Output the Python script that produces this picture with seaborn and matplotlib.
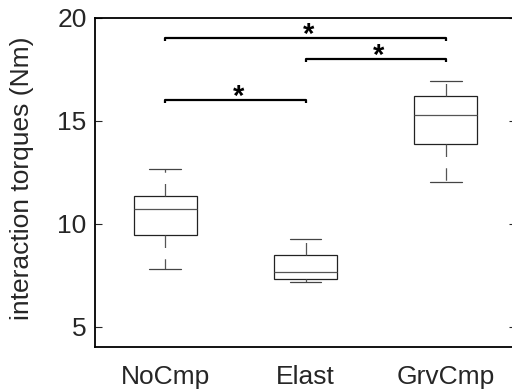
import numpy as np
import pandas as pd
import matplotlib
matplotlib.use("Agg")
import matplotlib.pyplot as plt
import seaborn as sns

# values: [low whisker, q1, median, q3, high whisker]
conditions = ["NoCmp", "Elast", "GrvCmp"]
nocmp_vals = [7.82, 9.43, 10.72, 11.36, 12.63]
elast_vals = [7.19, 7.29, 7.67, 8.49, 9.25]
grvcmp_vals = [12.02, 13.87, 15.26, 16.17, 16.90]

# significance brackets: (from, to, height)
sig_from = [0, 0, 1]
sig_to = [1, 2, 2]
sig_height = [16.0, 19.0, 18.0]

y_ticks = [5, 10, 15, 20]

df = pd.DataFrame({
    "condition": np.repeat(conditions, 5),
    "torque": nocmp_vals + elast_vals + grvcmp_vals,
})

sns.set_style("white")
plt.rcParams["font.family"] = ["Liberation Sans", "DejaVu Sans"]
txt_col = "#262626"

fig = plt.figure(figsize=(5.12, 3.9), dpi=100)
ax = fig.add_axes([95 / 512, 42.7 / 390, 421 / 512, 329.8 / 390])

sns.boxplot(data=df, x="condition", y="torque", order=conditions, ax=ax,
            color="white", linecolor="#222222", linewidth=0.9, width=0.45,
            whis=(0, 100), saturation=1,
            boxprops=dict(edgecolor="#222222", linewidth=0.9),
            medianprops=dict(color="#555555", linewidth=0.9),
            whiskerprops=dict(color="#555555", linewidth=0.9, linestyle=(0, (10, 9))),
            capprops=dict(color="#444444", linewidth=0.9))

# brackets and stars
for a, b, h in zip(sig_from, sig_to, sig_height):
    ax.plot([a, a, b, b], [h - 0.15, h, h, h - 0.15], color="black", lw=1.6,
            solid_joinstyle="round", solid_capstyle="butt")
    ax.text((a + b) / 2 + 0.02, h - 0.24, "*", ha="center", va="baseline",
            fontsize=21, fontweight="bold", color="black")

ax.set_xlim(-0.5, 2.5)
ax.set_ylim(4, 20)
ax.set_yticks(y_ticks)
ax.set_yticklabels([str(t) for t in y_ticks])
ax.set_xlabel("")
ax.set_ylabel("interaction torques (Nm)", fontsize=19, color=txt_col)
ax.yaxis.set_label_coords(-0.145, 0.513)

ax.tick_params(axis="y", direction="in", length=5, width=0.8, pad=6,
               labelsize=19, labelcolor=txt_col, colors=txt_col,
               left=True, right=True)
ax.tick_params(axis="x", length=0, pad=13, labelsize=19, labelcolor=txt_col)

for s in ax.spines.values():
    s.set_color("black")
    s.set_linewidth(1.3)
    s.set_visible(True)
ax.spines["right"].set_visible(False)

fig.savefig("out.png", dpi=100)
